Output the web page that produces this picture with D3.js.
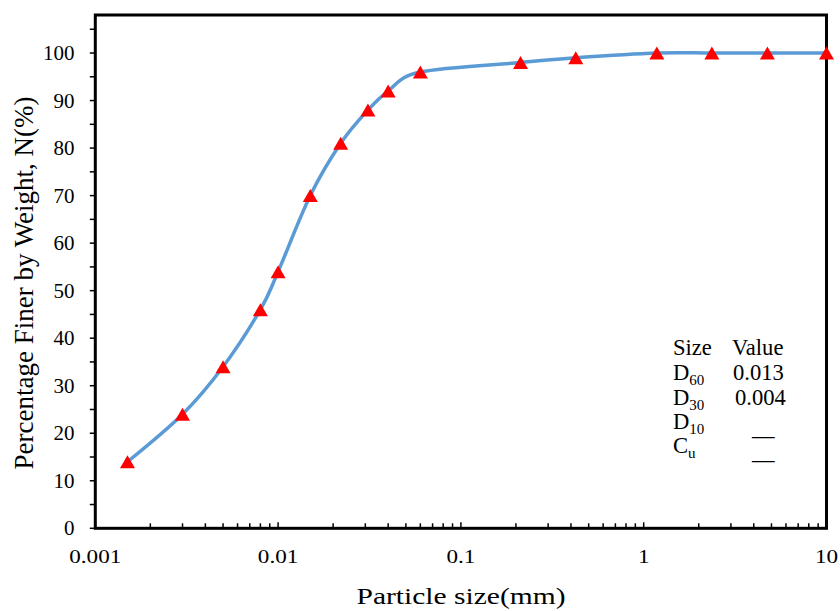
<!DOCTYPE html>
<html>
<head>
<meta charset="utf-8">
<script src="https://d3js.org/d3.v7.min.js"></script>
<style>
  body { margin: 0; background: #fff; }
  text { font-family: "Liberation Serif", "Times New Roman", serif; fill: #000; }
</style>
</head>
<body>
<div id="chart"></div>
<script>
// particle size (mm) vs percent finer
let sizes   = [0.0015, 0.003, 0.005, 0.008, 0.01, 0.015, 0.022, 0.031, 0.04, 0.06, 0.212, 0.425, 1.18, 2.36, 4.75, 10];
let finer   = [14, 24, 34, 46, 54, 70, 81, 88, 92, 96, 98, 99, 100, 100, 100, 100];
let xTicks  = [0.001, 0.01, 0.1, 1, 10];
let xLabels = ["0.001", "0.01", "0.1", "1", "10"];
let yTicks  = [0, 10, 20, 30, 40, 50, 60, 70, 80, 90, 100];
let legendRows = [
  { name: "D", sub: "60", value: "0.013" },
  { name: "D", sub: "30", value: "0.004" },
  { name: "D", sub: "10", value: "\u2014" },
  { name: "C", sub: "u",  value: "\u2014" }
];

let w = 840, h = 611;
let svg = d3.select("#chart").append("svg")
    .attr("width", w).attr("height", h);

let x = d3.scaleLog().domain([0.001, 10]).range([95.3, 826.5]);
let y = d3.scaleLinear().domain([0, 108]).range([528.3, 15]);

// minor ticks on x (2..9 in each decade), inward
let minorX = [];
for (let e = -3; e < 1; e++) {
  for (let k = 2; k <= 9; k++) minorX.push(k * Math.pow(10, e));
}
svg.append("g").selectAll("line").data(minorX).enter().append("line")
    .attr("x1", d => x(d)).attr("x2", d => x(d))
    .attr("y1", y(0)).attr("y2", y(0) - 5)
    .attr("stroke", "#000").attr("stroke-width", 1.5);
svg.append("g").selectAll("line").data(xTicks).enter().append("line")
    .attr("x1", d => x(d)).attr("x2", d => x(d))
    .attr("y1", y(0)).attr("y2", y(0) - 6)
    .attr("stroke", "#000").attr("stroke-width", 1.5);

// y ticks every 5, outward
let yAll = d3.range(0, 106, 5);
svg.append("g").selectAll("line").data(yAll).enter().append("line")
    .attr("x1", x(0.001)).attr("x2", x(0.001) - 5.5)
    .attr("y1", d => y(d)).attr("y2", d => y(d))
    .attr("stroke", "#000").attr("stroke-width", 1.5);

// frame
svg.append("rect")
    .attr("x", x(0.001)).attr("y", y(108))
    .attr("width", x(10) - x(0.001)).attr("height", y(0) - y(108))
    .attr("fill", "none").attr("stroke", "#000").attr("stroke-width", 3);

// tick labels
svg.append("g").selectAll("text").data(xTicks).enter().append("text")
    .attr("transform", d => "translate(" + x(d) + ",563) scale(1.22,1)")
    .attr("text-anchor", "middle")
    .style("font-size", "19px")
    .text((d, i) => xLabels[i]);

svg.append("g").selectAll("text").data(yTicks).enter().append("text")
    .attr("x", 74.5).attr("y", d => y(d) + 7)
    .attr("text-anchor", "end")
    .style("font-size", "21px")
    .text(d => d);

// axis titles
svg.append("text")
    .attr("transform", "translate(461,604) scale(1.23,1)")
    .attr("text-anchor", "middle")
    .style("font-size", "24px")
    .text("Particle size(mm)");

svg.append("text")
    .attr("transform", "translate(33,283) rotate(-90)")
    .attr("text-anchor", "middle")
    .style("font-size", "27px")
    .text("Percentage Finer by Weight, N(%)");

// smoothed line
let pts = sizes.map((s, i) => [x(s), y(finer[i])]);
let line = d3.line().curve(d3.curveCardinal.tension(0));
svg.append("path")
    .attr("d", line(pts))
    .attr("fill", "none")
    .attr("stroke", "#5b9bd5")
    .attr("stroke-width", 3.5);

// triangle markers
svg.append("g").selectAll("path").data(pts).enter().append("path")
    .attr("transform", d => "translate(" + d[0] + "," + d[1] + ")")
    .attr("d", "M0,-6.5L7.5,6.5L-7.5,6.5Z")
    .attr("fill", "#ff0000");

// size/value table
let leg = svg.append("g").style("font-size", "22.6px");
leg.append("text").attr("x", 673).attr("y", 355).text("Size");
leg.append("text").attr("x", 732).attr("y", 355).text("Value");
let rowY = [380, 405, 429, 453];
legendRows.forEach((r, i) => {
  let t = leg.append("text").attr("x", 673).attr("y", rowY[i]);
  t.append("tspan").text(r.name);
  t.append("tspan").attr("dy", 5).style("font-size", "15px").text(r.sub);
  if (r.value === "\u2014") {
    leg.append("text").attr("x", 752).attr("y", rowY[i] + 13.5).text(r.value);
  } else {
    leg.append("text").attr("x", i === 0 ? 733 : 735).attr("y", rowY[i]).text(r.value);
  }
});
</script>
</body>
</html>
